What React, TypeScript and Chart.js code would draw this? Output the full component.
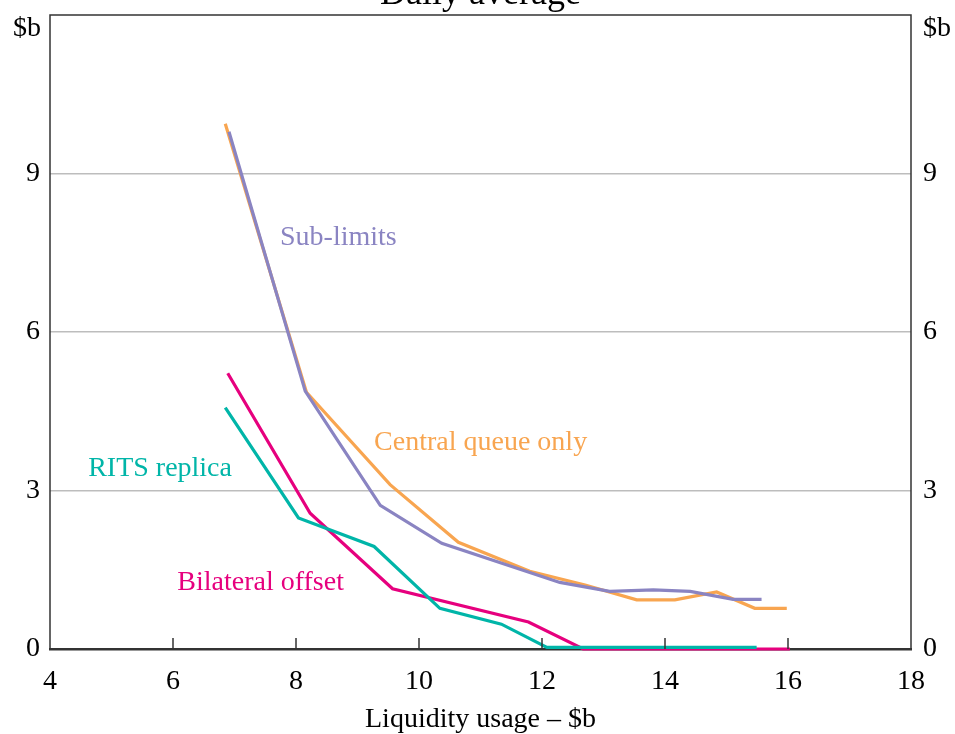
import React, { useEffect, useRef } from "react";
import { Chart, registerables } from "chart.js";

Chart.register(...registerables);

const xTicks = [4, 6, 8, 10, 12, 14, 16, 18];
const yTicks = [0, 3, 6, 9, 12];

const centralQueue: [number, number][] = [
  [6.85, 9.94], [8.17, 4.86], [9.53, 3.11], [10.64, 2.02], [11.8, 1.47],
  [12.7, 1.21], [13.54, 0.93], [14.16, 0.93], [14.84, 1.08], [15.46, 0.77], [15.98, 0.77],
];
const subLimits: [number, number][] = [
  [6.91, 9.79], [8.15, 4.88], [9.37, 2.72], [10.37, 2.0], [12.29, 1.26],
  [13.1, 1.09], [13.81, 1.12], [14.41, 1.09], [15.11, 0.94], [15.57, 0.94],
];
const bilateral: [number, number][] = [
  [6.89, 5.22], [8.23, 2.57], [9.57, 1.14], [11.78, 0.51], [12.67, 0.0], [16.03, 0.0],
];
const rits: [number, number][] = [
  [6.85, 4.57], [8.04, 2.48], [9.27, 1.94], [10.34, 0.77], [11.34, 0.47], [12.08, 0.03], [15.49, 0.03],
];

const ORANGE = "#F8A550";
const PURPLE = "#8A84C2";
const MAGENTA = "#E6007E";
const TEAL = "#00B5A8";
const FONT = "'Liberation Serif', 'DejaVu Serif', serif";
const FS = 28;

const labels = [
  { text: "Sub-limits", x: 7.74, y: 7.79, color: PURPLE },
  { text: "Central queue only", x: 9.27, y: 3.91, color: ORANGE },
  { text: "RITS replica", x: 4.62, y: 3.41, color: TEAL },
  { text: "Bilateral offset", x: 6.07, y: 1.25, color: MAGENTA },
];

const toPts = (a: [number, number][]) => a.map(([x, y]) => ({ x, y }));

export default function App() {
  const ref = useRef<HTMLCanvasElement | null>(null);
  useEffect(() => {
    if (!ref.current) return;
    const deco = {
      id: "deco",
      afterDraw(chart: any) {
        const ctx = chart.ctx;
        const a = chart.chartArea;
        const xs = chart.scales.x;
        const ys = chart.scales.y;
        ctx.save();
        ctx.strokeStyle = "#333";
        ctx.lineWidth = 1.5;
        ctx.beginPath();
        ctx.moveTo(a.left, a.bottom);
        ctx.lineTo(a.left, a.top);
        ctx.lineTo(a.right, a.top);
        ctx.lineTo(a.right, a.bottom);
        ctx.stroke();
        xTicks.forEach((v) => {
          if (v === xTicks[0] || v === xTicks[xTicks.length - 1]) return;
          const px = xs.getPixelForValue(v);
          ctx.beginPath();
          ctx.moveTo(px, a.bottom);
          ctx.lineTo(px, a.bottom - 11);
          ctx.stroke();
        });
        ctx.fillStyle = "#000";
        ctx.font = `36px ${FONT}`;
        ctx.textAlign = "center";
        ctx.textBaseline = "alphabetic";
        ctx.fillText("Daily average", (a.left + a.right) / 2, 4);
        ctx.font = `${FS}px ${FONT}`;
        ctx.textBaseline = "middle";
        ctx.textAlign = "right";
        ctx.fillText("$b", a.left - 9, a.top + 14);
        ctx.textAlign = "left";
        ctx.fillText("$b", a.right + 12, a.top + 14);
        labels.forEach((l) => {
          ctx.fillStyle = l.color;
          ctx.textAlign = "left";
          ctx.textBaseline = "middle";
          ctx.fillText(l.text, xs.getPixelForValue(l.x), ys.getPixelForValue(l.y));
        });
        ctx.restore();
      },
    };
    const ds = (label: string, data: [number, number][], color: string, order: number) => ({
      label,
      data: toPts(data),
      borderColor: color,
      backgroundColor: color,
      borderWidth: 3.2,
      pointRadius: 0,
      tension: 0,
      clip: false as any,
      order,
    });
    const chart = new Chart(ref.current, {
      type: "line",
      data: {
        datasets: [
          ds("RITS replica", rits, TEAL, 1),
          ds("Bilateral offset", bilateral, MAGENTA, 2),
          ds("Sub-limits", subLimits, PURPLE, 3),
          ds("Central queue only", centralQueue, ORANGE, 4),
        ],
      },
      options: {
        animation: false,
        responsive: false,
        devicePixelRatio: 1,
        layout: { padding: { top: 15, left: 0, right: 0, bottom: 0 } },
        plugins: { legend: { display: false }, tooltip: { enabled: false }, title: { display: false } },
        scales: {
          x: {
            type: "linear",
            min: 4,
            max: 18,
            afterBuildTicks: (s: any) => { s.ticks = xTicks.map((v) => ({ value: v })); },
            afterFit: (s: any) => { s.height = 85; },
            grid: { display: false, drawTicks: false },
            border: { display: true, color: "#333", width: 2.5 },
            ticks: { color: "#000", font: { family: FONT, size: FS }, padding: 16, maxRotation: 0 },
            title: { display: true, text: "Liquidity usage – $b", color: "#000", font: { family: FONT, size: FS }, padding: { top: 6, bottom: -2 } },
          },
          y: {
            position: "left",
            min: 0,
            max: 12,
            afterBuildTicks: (s: any) => { s.ticks = yTicks.map((v) => ({ value: v })); },
            afterFit: (s: any) => { s.width = 50; s.paddingTop = 0; s.paddingBottom = 0; },
            grid: {
              drawTicks: false,
              color: (c: any) => (c.tick && (c.tick.value === 0 || c.tick.value === 12) ? "rgba(0,0,0,0)" : "#BDBDBD"),
              lineWidth: 1.5,
            },
            border: { display: false },
            ticks: {
              color: "#000",
              font: { family: FONT, size: FS },
              padding: 10,
              callback: (v: any) => (v === 12 ? "" : String(v)),
            },
          },
          y2: {
            position: "right",
            min: 0,
            max: 12,
            afterBuildTicks: (s: any) => { s.ticks = yTicks.map((v) => ({ value: v })); },
            afterFit: (s: any) => { s.width = 44; s.paddingTop = 0; s.paddingBottom = 0; },
            grid: { display: false, drawTicks: false },
            border: { display: false },
            ticks: {
              color: "#000",
              font: { family: FONT, size: FS },
              padding: 12,
              callback: (v: any) => (v === 12 ? "" : String(v)),
            },
          },
        },
      },
      plugins: [deco],
    } as any);
    return () => chart.destroy();
  }, []);
  return (
    <div style={{ position: "fixed", left: 0, top: 0, width: 955, height: 734, background: "#fff" }}>
      <canvas ref={ref} width={955} height={734} style={{ width: 955, height: 734, display: "block" }} />
    </div>
  );
}
